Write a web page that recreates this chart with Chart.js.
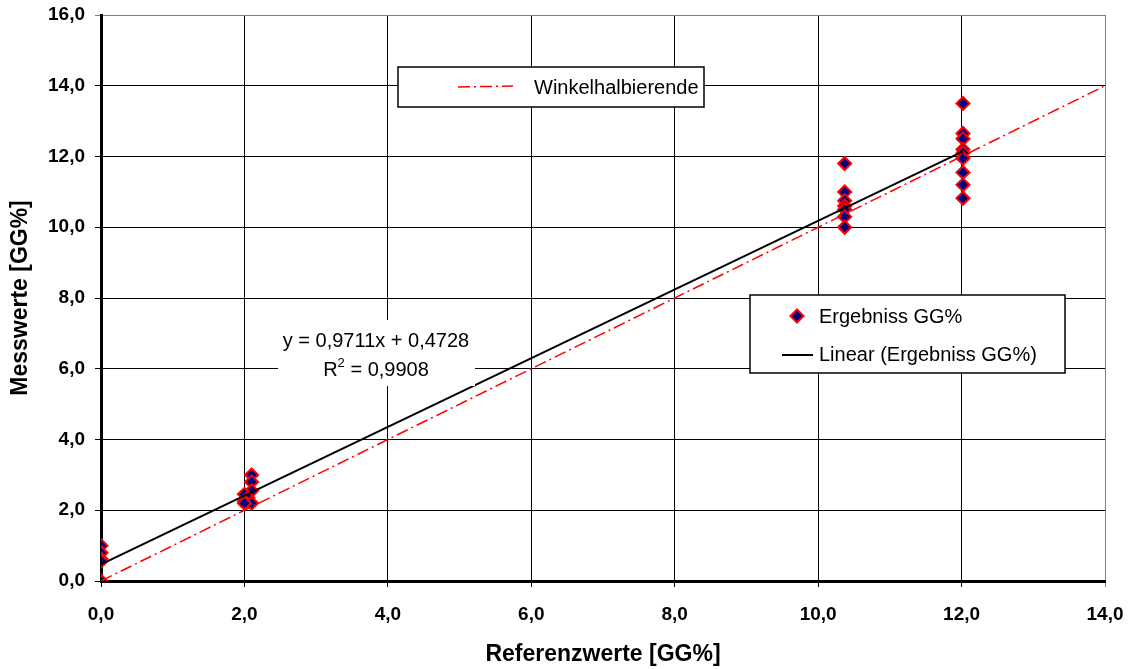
<!DOCTYPE html>
<html><head><meta charset="utf-8">
<script src="https://cdn.jsdelivr.net/npm/chart.js@4/dist/chart.umd.min.js"></script>
<style>html,body{margin:0;padding:0;background:#fff}</style>
</head><body>
<canvas id="c" width="1131" height="669"></canvas>
<script>
// ---- data ----
const resultX = [0,0,0,0,0, 2.1,2.1,2.1,2.0,2.05,2.0,2.1,2.0, 10.37,10.37,10.37,10.37,10.37,10.37,10.37, 12.02,12.02,12.02,12.02,12.02,12.02,12.02,12.02,12.02];
const resultY = [1.0,0.8,0.62,0.56,0.0, 3.0,2.8,2.55,2.45,2.35,2.25,2.2,2.2, 11.8,11.0,10.75,10.6,10.5,10.3,10.0, 13.5,12.65,12.5,12.2,12.1,11.95,11.55,11.2,10.82];
const diagX = [0,2,4,6,8,10,12,14];
const diagY = [0,2,4,6,8,10,12,14];
const trendSlope = 0.9711;
const trendIntercept = 0.4728;
const trendRange = [0, 12.02];
const rSquared = '0,9908';
const xTickValues = [0,2,4,6,8,10,12,14];
const yTickValues = [0,2,4,6,8,10,12,14,16];
const seriesNames = ['Ergebniss GG%','Winkelhalbierende','Linear (Ergebniss GG%)'];

const FONT = '"Liberation Sans", Arial, sans-serif';
const fmt = v => Number(v).toFixed(1).replace('.', ',');
function fmt4(v){ return v.toFixed(4).replace('.', ','); }

const overlay = {
  id: 'overlay',
  afterDraw(chart) {
    const ctx = chart.ctx;
    ctx.save();
    // regression label box
    ctx.fillStyle = '#fff';
    ctx.fillRect(278, 320, 197, 66);
    ctx.fillStyle = '#000';
    ctx.font = '20px ' + FONT;
    ctx.textBaseline = 'alphabetic';
    ctx.textAlign = 'center';
    ctx.fillText('y = ' + fmt4(trendSlope) + 'x + ' + fmt4(trendIntercept), 376, 347);
    const p1 = 'R', p2 = '2', p3 = ' = ' + rSquared;
    ctx.textAlign = 'left';
    const w1 = ctx.measureText(p1).width, w3 = ctx.measureText(p3).width;
    ctx.font = '13px ' + FONT;
    const w2 = ctx.measureText(p2).width;
    let sx = 376 - (w1 + w2 + w3) / 2;
    ctx.font = '20px ' + FONT;
    ctx.fillText(p1, sx, 376);
    ctx.font = '13px ' + FONT;
    ctx.fillText(p2, sx + w1, 367);
    ctx.font = '20px ' + FONT;
    ctx.fillText(p3, sx + w1 + w2, 376);

    // legend 1
    ctx.fillStyle = '#fff';
    ctx.strokeStyle = '#000';
    ctx.lineWidth = 1.5;
    ctx.fillRect(398, 67, 306, 40);
    ctx.strokeRect(398, 67, 306, 40);
    ctx.beginPath();
    ctx.setLineDash([12,4,2,4]);
    ctx.strokeStyle = '#ff0000';
    ctx.lineWidth = 1.5;
    ctx.moveTo(458, 87); ctx.lineTo(513, 86);
    ctx.stroke();
    ctx.setLineDash([]);
    ctx.fillStyle = '#000';
    ctx.font = '20px ' + FONT;
    ctx.textBaseline = 'middle';
    ctx.fillText(seriesNames[1], 534, 88);

    // legend 2
    ctx.fillStyle = '#fff';
    ctx.strokeStyle = '#000';
    ctx.lineWidth = 1.5;
    ctx.fillRect(750, 295, 315, 78);
    ctx.strokeRect(750, 295, 315, 78);
    const dx = 797, dy = 316, r = 6.5;
    ctx.beginPath();
    ctx.moveTo(dx, dy - r); ctx.lineTo(dx + r, dy); ctx.lineTo(dx, dy + r); ctx.lineTo(dx - r, dy); ctx.closePath();
    ctx.fillStyle = '#000080'; ctx.fill();
    ctx.strokeStyle = '#ff0000'; ctx.lineWidth = 2; ctx.stroke();
    ctx.beginPath();
    ctx.strokeStyle = '#000'; ctx.lineWidth = 2;
    ctx.moveTo(782, 355); ctx.lineTo(813, 355); ctx.stroke();
    ctx.fillStyle = '#000';
    ctx.fillText(seriesNames[0], 819, 317);
    ctx.fillText(seriesNames[2], 819, 355);
    ctx.restore();
  }
};

const gridColor = (max) => (c) => (c.tick && c.tick.value === max) ? '#808080' : '#000000';

new Chart(document.getElementById('c'), {
  type: 'scatter',
  data: {
    datasets: [
      {
        label: seriesNames[0],
        data: resultX.map((x, i) => ({x, y: resultY[i]})),
        pointStyle: 'rectRot', pointRadius: 6.5, borderWidth: 2,
        backgroundColor: '#000080', borderColor: '#ff0000',
        showLine: false, order: 3
      },
      {
        label: seriesNames[1],
        data: diagX.map((x, i) => ({x, y: diagY[i]})),
        showLine: true, pointRadius: 0, borderColor: '#ff0000', borderWidth: 1.5,
        borderDash: [12,4,2,4], order: 2
      },
      {
        label: seriesNames[2],
        data: trendRange.map(x => ({x, y: trendSlope * x + trendIntercept})),
        showLine: true, pointRadius: 0, borderColor: '#000000', borderWidth: 2, order: 1
      }
    ]
  },
  options: {
    responsive: false, animation: false,
    layout: { padding: { left: 0, right: 26, top: 15, bottom: 0 } },
    plugins: { legend: { display: false }, tooltip: { enabled: false } },
    scales: {
      x: {
        type: 'linear', min: 0, max: 14,
        afterBuildTicks: s => { s.ticks = xTickValues.map(v => ({value: v})); },
        afterFit: s => { s.height = 88; s.paddingLeft = 0; s.paddingRight = 0; },
        grid: { color: gridColor(14), lineWidth: 1, tickLength: 6 },
        border: { color: '#000', width: 3 },
        ticks: { color: '#000', padding: 16, font: { family: FONT, size: 19, weight: 'bold' }, callback: v => fmt(v), maxRotation: 0 },
        title: { display: true, text: 'Referenzwerte [GG%]', color: '#000', font: { family: FONT, size: 23, weight: 'bold' }, padding: { top: 0, bottom: 1 } }
      },
      y: {
        type: 'linear', min: 0, max: 16,
        afterBuildTicks: s => { s.ticks = yTickValues.map(v => ({value: v})); },
        afterFit: s => { s.width = 101; s.paddingTop = 0; s.paddingBottom = 0; },
        grid: { color: gridColor(16), lineWidth: 1, tickLength: 6 },
        border: { color: '#000', width: 3 },
        ticks: { color: '#000', padding: 10, font: { family: FONT, size: 19, weight: 'bold' }, callback: v => fmt(v) },
        title: { display: true, text: 'Messwerte [GG%]', color: '#000', font: { family: FONT, size: 23, weight: 'bold' }, padding: { top: 7, bottom: 0 } }
      }
    }
  },
  plugins: [overlay]
});
</script>
</body></html>
